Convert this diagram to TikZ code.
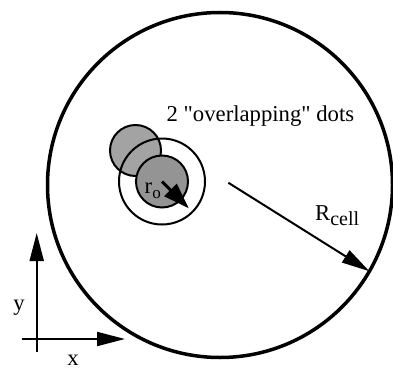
\documentclass[tikz,border=0pt]{standalone}
\usepackage{fontspec}
\setmainfont{Liberation Serif}[Ligatures=TeXOff]
\usetikzlibrary{arrows.meta,positioning}
\definecolor{dotlight}{gray}{0.64}
\definecolor{dotdark}{gray}{0.58}
\tikzset{
  ring/.style={draw, circle, inner sep=0pt, outer sep=0pt},
  cellwall/.style={ring, line width=3.5pt, minimum size=345pt},
  dotA/.style={ring, line width=2pt, fill=dotlight, minimum size=51pt},
  dotB/.style={ring, line width=2pt, fill=dotdark, minimum size=52pt},
  halo/.style={ring, line width=2pt, minimum size=86pt},
  lbl/.style={inner sep=0pt, font=\fontsize{22.7}{27}\selectfont},
  arr/.style={-{Triangle[length=28pt, width=14pt]}, line width=2pt},
  roarr/.style={-{Triangle[length=26pt, width=17pt]}, line width=3pt, shorten >=5pt},
}

\begin{document}
\begin{tikzpicture}[x=1pt, y=-1pt]
    \useasboundingbox (0,0) rectangle (393,369);
    % the cell
    \node[cellwall] (cell) at (220,185) {};
    % the two dots and the ring round the lower one
    \node[dotA] (upper) at (135.5,150.5) {};
    \node[halo] (halo) at (162,181.5) {};
    \node[dotB] (lower) at (162,181.5) {};
    \draw[roarr] (lower.center) -- (halo.-45);
    \node[lbl, anchor=base west] (ro) at (144.5,193) {r\raisebox{-5pt}{\fontsize{17}{17}\selectfont o}};
    \node[lbl, anchor=base west] (dots) at (166.5,121.5) {2 "overlapping" dots};
    % cell radius
    \coordinate (rstart) at (228.3,182.7);
    \draw[arr] (rstart) -- (cell.-30);
    \node[lbl, anchor=base west] (rcell) at (315,220) {R\raisebox{-5pt}{\fontsize{20}{20}\selectfont cell}};
    % axes
    \coordinate (ybot) at (36.7,352);
    \coordinate (ytop) at (36.7,233);
    \coordinate (xleft) at (21.7,339);
    \coordinate (xright) at (125,339);
    \draw[arr] (ybot) -- (ytop);
    \draw[arr] (xleft) -- (xright);
    \node[lbl, anchor=base] (ylab) at (19,310.5) {y};
    \node[lbl, anchor=base] (xlab) at (73,365) {x};
  \end{tikzpicture}
\end{document}
